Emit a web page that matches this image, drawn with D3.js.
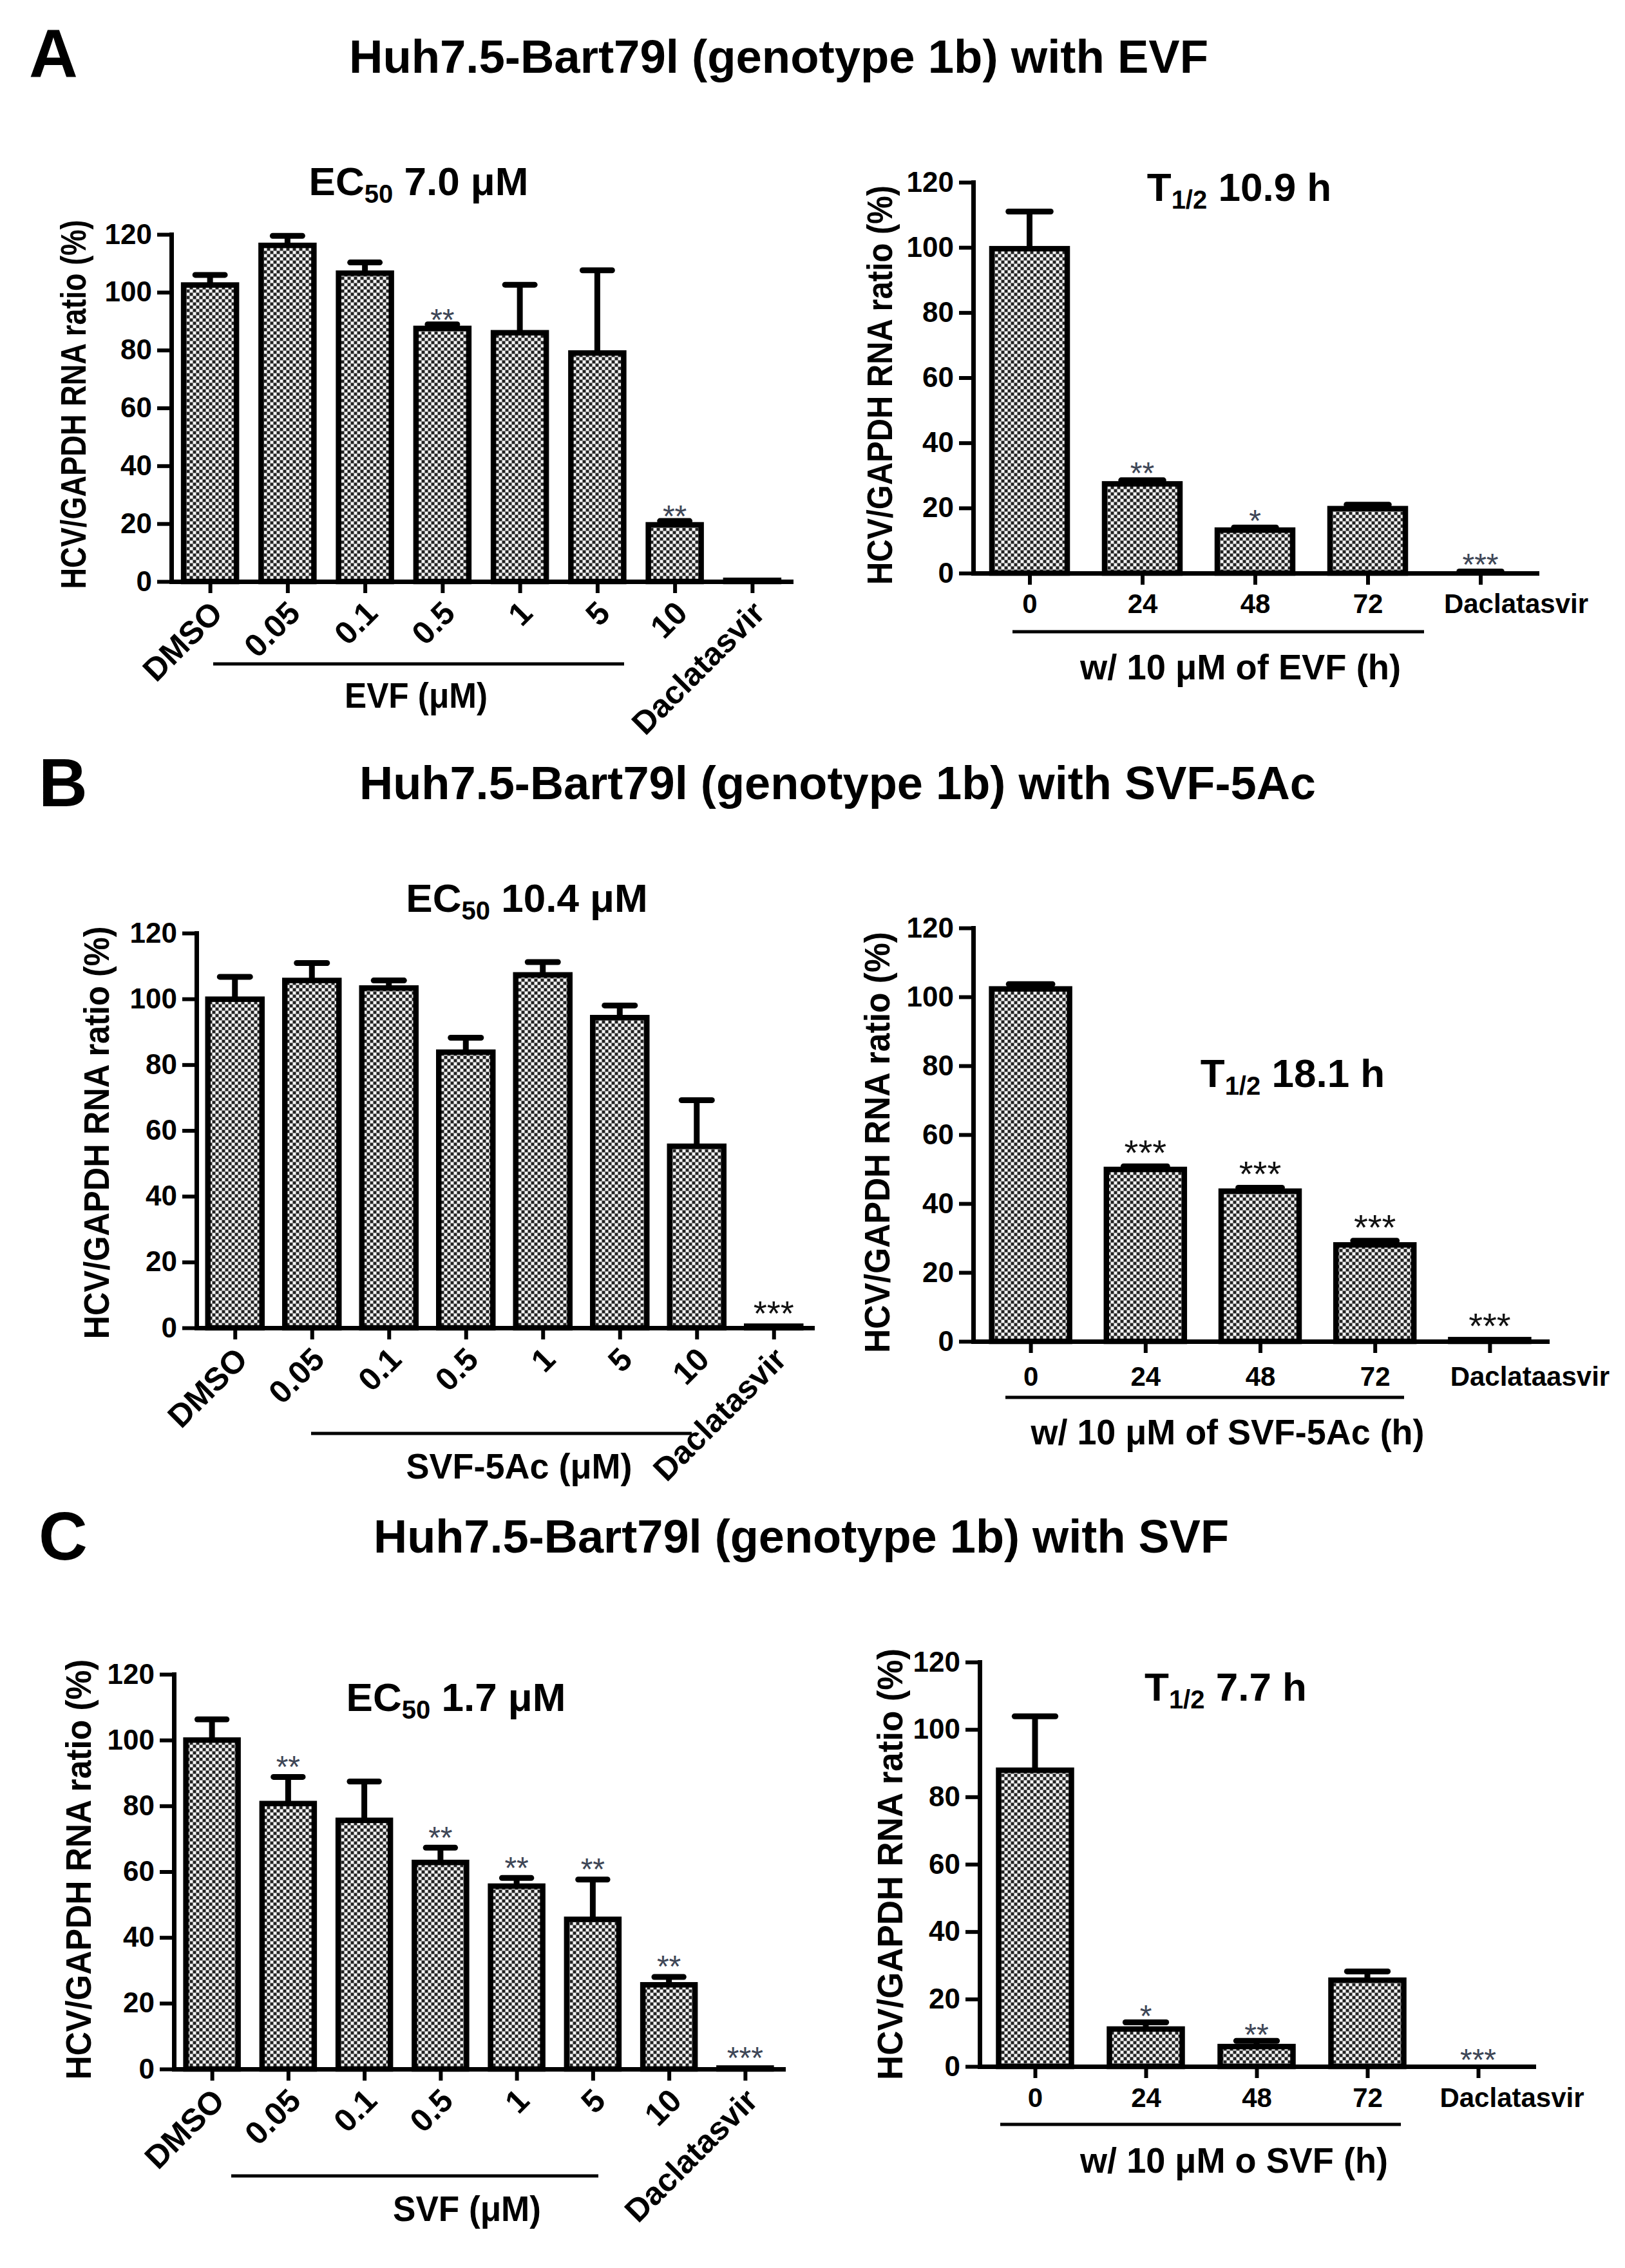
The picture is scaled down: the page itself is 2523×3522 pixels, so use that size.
<!DOCTYPE html>
<html>
<head>
<meta charset="utf-8">
<script src="https://cdn.jsdelivr.net/npm/d3@7"></script>
<style>
  html, body { margin: 0; padding: 0; background: #fff; }
  svg text { font-family: "Liberation Sans", Arial, Helvetica, sans-serif; font-weight: bold; fill: #000; }
</style>
</head>
<body>
<svg id="fig" width="2523" height="3522"></svg>
<script>
// Catégories
const doseCats = ["DMSO", "0.05", "0.1", "0.5", "1", "5", "10", "Daclatasvir"];
const timeCats = ["0", "24", "48", "72", "Daclatasvir"];
const timeCatsB = ["0", "24", "48", "72", "Daclataasvir"];
const yTicks = [0, 20, 40, 60, 80, 100, 120];

// A : EVF
const evfDoseMean = [102.5, 116.2, 106.6, 87.5, 86.0, 79.0, 19.6, 0.4];
const evfDoseSem = [3.5, 3.3, 3.7, 1.4, 16.6, 28.6, 1.3, 0];
const evfDoseStars = ["", "", "", "**", "", "", "**", ""];
const evfTimeMean = [99.6, 27.4, 13.2, 19.8, 0];
const evfTimeSem = [11.4, 1.1, 0.8, 1.2, 0.5];
const evfTimeStars = ["", "**", "*", "", "***"];

// B : SVF-5Ac
const svf5DoseMean = [99.9, 105.6, 103.3, 83.8, 107.3, 94.3, 55.2, 0.5];
const svf5DoseSem = [6.8, 5.3, 2.3, 4.4, 3.9, 3.7, 14.0, 0];
const svf5DoseStars = ["", "", "", "", "", "", "", "***"];
const svf5TimeMean = [102.3, 49.9, 43.6, 28.0, 0.5];
const svf5TimeSem = [1.4, 0.9, 1.0, 1.2, 0];
const svf5TimeStars = ["", "***", "***", "***", "***"];

// C : SVF
const svfDoseMean = [100.0, 80.7, 75.6, 62.8, 55.6, 45.5, 25.6, 0.3];
const svfDoseSem = [6.3, 8.1, 11.8, 4.5, 2.5, 12.1, 2.4, 0];
const svfDoseStars = ["", "**", "", "**", "**", "**", "**", "***"];
const svfTimeMean = [87.9, 11.1, 5.9, 25.6, 0];
const svfTimeSem = [16.0, 2.0, 1.7, 2.6, 0];
const svfTimeStars = ["", "*", "**", "", "***"];

// Textes
const panelLetters = ["A", "B", "C"];
const panelTitles = [
  "Huh7.5-Bart79l (genotype 1b) with EVF",
  "Huh7.5-Bart79l (genotype 1b) with SVF-5Ac",
  "Huh7.5-Bart79l (genotype 1b) with SVF"
];
const ec50Values = ["7.0", "10.4", "1.7"];
const halfLives = ["10.9", "18.1", "7.7"];
const doseGroups = ["EVF (\u03bcM)", "SVF-5Ac (\u03bcM)", "SVF (\u03bcM)"];
const timeGroups = ["w/ 10 \u03bcM of EVF (h)", "w/ 10 \u03bcM of SVF-5Ac (h)", "w/ 10 \u03bcM o SVF (h)"];
const yLabel = "HCV/GAPDH RNA ratio (%)";

const svg = d3.select("#fig");
svg.append("rect").attr("width", 2523).attr("height", 3522).attr("fill", "#fff");

// Motif pointillé des barres
const pat = svg.append("defs").append("pattern")
  .attr("id", "dots").attr("patternUnits", "userSpaceOnUse")
  .attr("width", 10).attr("height", 10);
pat.append("rect").attr("width", 10).attr("height", 10).attr("fill", "#8e8e8e");
[[0, 0, "#222"], [5, 5, "#222"], [5, 0, "#f4f4f4"], [0, 5, "#f4f4f4"]].forEach(([px, py, c]) => {
  pat.append("rect").attr("x", px).attr("y", py).attr("width", 4).attr("height", 4).attr("fill", c);
});

// Titres généraux
const titleLayout = [
  { lx: 45, lbase: 120, tx: 542, tbase: 113, tlen: 1334 },
  { lx: 60, lbase: 1252, tx: 558, tbase: 1241, tlen: 1485 },
  { lx: 60, lbase: 2422, tx: 580, tbase: 2411, tlen: 1328 }
];
titleLayout.forEach((t, i) => {
  svg.append("text").attr("x", t.lx).attr("y", t.lbase).attr("font-size", 105).text(panelLetters[i]);
  svg.append("text").attr("x", t.tx).attr("y", t.tbase).attr("font-size", 72)
    .attr("textLength", t.tlen).attr("lengthAdjust", "spacingAndGlyphs").text(panelTitles[i]);
});

function drawPanel(L, cats, mean, sem, stars, head) {
  const g = svg.append("g");
  const x = d3.scalePoint().domain(cats).range([L.left, L.right]).padding(0.5);
  const y = d3.scaleLinear().domain([0, 120]).range([L.y0, L.y120]);

  // Barres
  g.selectAll("rect.bar").data(cats).join("rect").attr("class", "bar")
    .attr("x", (d) => x(d) - L.barW / 2)
    .attr("y", (d, i) => y(mean[i]))
    .attr("width", L.barW)
    .attr("height", (d, i) => y(0) - y(mean[i]))
    .attr("fill", "url(#dots)")
    .attr("stroke", "#000").attr("stroke-width", 8.5);

  // Barres d'erreur
  const capW = L.barW * 0.56;
  cats.forEach((d, i) => {
    if (sem[i] <= 0) return;
    g.append("line").attr("x1", x(d)).attr("x2", x(d))
      .attr("y1", y(mean[i])).attr("y2", y(mean[i] + sem[i]))
      .attr("stroke", "#000").attr("stroke-width", 9);
    g.append("line").attr("x1", x(d) - capW / 2).attr("x2", x(d) + capW / 2)
      .attr("y1", y(mean[i] + sem[i])).attr("y2", y(mean[i] + sem[i]))
      .attr("stroke", "#000").attr("stroke-width", 9).attr("stroke-linecap", "round");
  });

  // Étoiles
  cats.forEach((d, i) => {
    if (!stars[i]) return;
    const top = y(mean[i] + sem[i]);
    g.append("text").attr("x", x(d)).attr("y", top - L.starLift + 0.57 * L.starSize)
      .attr("text-anchor", "middle").attr("font-size", L.starSize)
      .style("fill", L.starColor).style("font-weight", "normal").text(stars[i]);
  });

  // Axes
  const yAxis = g.append("g").attr("transform", `translate(${L.left},0)`)
    .call(d3.axisLeft(y).tickValues(yTicks).tickSize(22).tickSizeOuter(0).tickPadding(8));
  yAxis.attr("font-family", null).attr("font-size", null);
  yAxis.select(".domain").attr("stroke-width", 7).attr("stroke-linecap", "square");
  yAxis.selectAll(".tick line").attr("stroke-width", 6);
  yAxis.selectAll(".tick text").attr("font-size", 44);

  const xAxis = g.append("g").attr("transform", `translate(0,${L.y0})`)
    .call(d3.axisBottom(x).tickSize(18).tickSizeOuter(0).tickPadding(L.tickPad || 10));
  xAxis.attr("font-family", null).attr("font-size", null);
  xAxis.select(".domain").attr("stroke-width", 7).attr("stroke-linecap", "square");
  xAxis.selectAll(".tick line").attr("stroke-width", 6);
  if (L.rot) {
    xAxis.selectAll(".tick text").attr("font-size", 50)
      .attr("x", 0).attr("y", 0).attr("dy", 0)
      .attr("text-anchor", "end")
      .attr("transform", `translate(${L.rotDx},${L.rotDy}) rotate(-45)`);
  } else {
    xAxis.selectAll(".tick text").attr("font-size", 42)
      .attr("dx", (d, i) => (i === cats.length - 1 ? L.lastDx : 0));
  }

  // Titre du graphique avec indice
  const t = g.append("text").attr("x", L.title.cx).attr("y", L.title.base)
    .attr("text-anchor", "middle").attr("font-size", 62);
  t.append("tspan").text(head[0]);
  t.append("tspan").attr("font-size", 40).attr("dy", 12).text(head[1]);
  t.append("tspan").attr("dy", -12).text(head[2]);

  // Titre de l'axe Y
  g.append("text")
    .attr("transform", `translate(${L.ylab.cx},${L.ylab.cy}) rotate(-90)`)
    .attr("text-anchor", "middle").attr("dy", "0.35em").attr("font-size", 56)
    .attr("textLength", L.ylab.len).attr("lengthAdjust", "spacingAndGlyphs")
    .text(yLabel);

  // Trait de regroupement + légende
  g.append("line").attr("x1", L.group.x1).attr("x2", L.group.x2)
    .attr("y1", L.group.y).attr("y2", L.group.y)
    .attr("stroke", "#000").attr("stroke-width", 5);
  g.append("text").attr("x", L.group.cx).attr("y", L.group.cy)
    .attr("text-anchor", "middle").attr("dy", "0.35em").attr("font-size", 56)
    .attr("textLength", L.group.len).attr("lengthAdjust", "spacingAndGlyphs")
    .text(L.group.text);
}

const starGrey = "#3e4656";
const layouts = [
  { left: 266, right: 1228, y0: 903, y120: 364, barW: 82, rot: true, rotDx: 22, rotDy: 52,
    title: { cx: 650, base: 303 }, ylab: { cx: 113, cy: 628, len: 573 },
    group: { x1: 331, x2: 969, y: 1031, cx: 646, cy: 1079, len: 222, text: doseGroups[0] },
    starLift: 18, starSize: 48, starColor: starGrey },
  { left: 1511, right: 2386, y0: 890, y120: 283, barW: 117, tickPad: 14, lastDx: 55,
    title: { cx: 1924, base: 312 }, ylab: { cx: 1365, cy: 598, len: 620 },
    group: { x1: 1572, x2: 2211, y: 981, cx: 1926, cy: 1035, len: 498, text: timeGroups[0] },
    starLift: 22, starSize: 48, starColor: starGrey },
  { left: 305, right: 1261, y0: 2062, y120: 1449, barW: 84, rot: true, rotDx: 22, rotDy: 52,
    title: { cx: 818, base: 1416 }, ylab: { cx: 149, cy: 1759, len: 641 },
    group: { x1: 483, x2: 1074, y: 2226, cx: 806, cy: 2276, len: 351, text: doseGroups[1] },
    starLift: 32, starSize: 54, starColor: "#111" },
  { left: 1511, right: 2402, y0: 2083, y120: 1441, barW: 121, tickPad: 21, lastDx: 62,
    title: { cx: 2007, base: 1688 }, ylab: { cx: 1361, cy: 1774, len: 654 },
    group: { x1: 1561, x2: 2180, y: 2170, cx: 1906, cy: 2223, len: 611, text: timeGroups[1] },
    starLift: 34, starSize: 56, starColor: "#111" },
  { left: 270, right: 1216, y0: 3213, y120: 2600, barW: 81, rot: true, rotDx: 22, rotDy: 52,
    title: { cx: 708, base: 2657 }, ylab: { cx: 121, cy: 2903, len: 653 },
    group: { x1: 359, x2: 929, y: 3379, cx: 725, cy: 3429, len: 230, text: doseGroups[2] },
    starLift: 27, starSize: 48, starColor: starGrey },
  { left: 1521, right: 2381, y0: 3209, y120: 2581, barW: 113, tickPad: 15, lastDx: 52,
    title: { cx: 1903, base: 2641 }, ylab: { cx: 1381, cy: 2895, len: 670 },
    group: { x1: 1553, x2: 2175, y: 3299, cx: 1916, cy: 3354, len: 478, text: timeGroups[2] },
    starLift: 21, starSize: 48, starColor: starGrey }
];

drawPanel(layouts[0], doseCats, evfDoseMean, evfDoseSem, evfDoseStars, ["EC", "50", " " + ec50Values[0] + " \u03bcM"]);
drawPanel(layouts[1], timeCats, evfTimeMean, evfTimeSem, evfTimeStars, ["T", "1/2", " " + halfLives[0] + " h"]);
drawPanel(layouts[2], doseCats, svf5DoseMean, svf5DoseSem, svf5DoseStars, ["EC", "50", " " + ec50Values[1] + " \u03bcM"]);
drawPanel(layouts[3], timeCatsB, svf5TimeMean, svf5TimeSem, svf5TimeStars, ["T", "1/2", " " + halfLives[1] + " h"]);
drawPanel(layouts[4], doseCats, svfDoseMean, svfDoseSem, svfDoseStars, ["EC", "50", " " + ec50Values[2] + " \u03bcM"]);
drawPanel(layouts[5], timeCats, svfTimeMean, svfTimeSem, svfTimeStars, ["T", "1/2", " " + halfLives[2] + " h"]);
</script>
</body>
</html>
